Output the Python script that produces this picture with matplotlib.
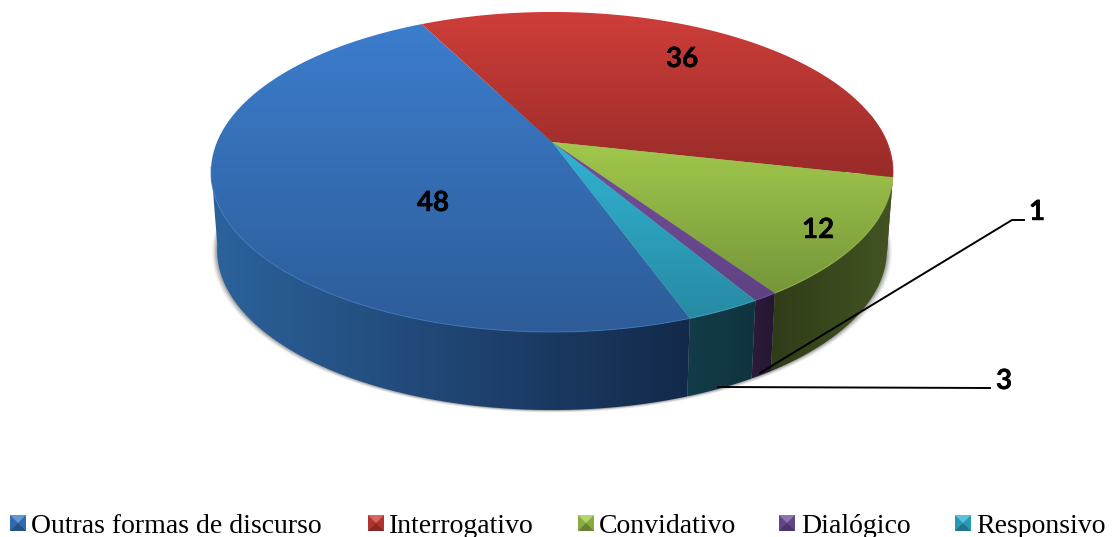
import numpy as np
import matplotlib
matplotlib.use("Agg")
import matplotlib.pyplot as plt
import matplotlib.patheffects as pe
from matplotlib.colors import LinearSegmentedColormap, to_rgb
from matplotlib.patches import Polygon

categories = ["Outras formas de discurso", "Interrogativo", "Convidativo", "Dialógico", "Responsivo"]
values = [48, 36, 12, 1, 3]

W, H = 1112, 537
START = 160.2  # degrees clockwise from the top, where the blue slice begins

# top face colours (far, near), side colours (left, right)
top_colors = [("#3c7dcd", "#2d5c98"), ("#cf3e39", "#982b29"), ("#a2c84c", "#76963a"),
              ("#74509e", "#5f4283"), ("#30b4d2", "#288aa4")]
side_colors = [("#2c629c", "#13294a"), ("#7a2220", "#5a1715"), ("#303c18", "#425423"),
               ("#2c1c3c", "#24162f"), ("#123c48", "#10343f")]
label_pos = [(433, 203), (682, 59), (818, 230), (1037, 212), (1004, 381)]
legend_x = [10, 368, 578, 779, 955]
legend_text_x = [31, 389, 599, 801, 976]


def project(theta, scale_x=1.0, dy=0.0):
    """angle on the circle (deg clockwise from top) -> pixels, with a bit of perspective"""
    t = np.radians(theta)
    u, v = np.sin(t), np.cos(t)
    w = 1 + 0.1875 * v
    return 552 + scale_x * 335 * u / w, 142 - 154.4 * v / w + dy


def arc(a0, a1, scale_x=1.0, dy=0.0):
    th = np.linspace(a0, a1, 200)
    x, y = project(th, scale_x, dy)
    return np.column_stack([x, y])


def gradient_fill(ax, verts, c0, c1, horizontal=False, zorder=2):
    cmap = LinearSegmentedColormap.from_list("g", [c0, c1])
    xmin, ymin = verts.min(axis=0)
    xmax, ymax = verts.max(axis=0)
    grad = np.linspace(0, 1, 256)
    grad = grad[np.newaxis, :] if horizontal else grad[:, np.newaxis]
    im = ax.imshow(grad, cmap=cmap, extent=(xmin, xmax, ymax, ymin), origin="upper",
                   aspect="auto", interpolation="bilinear", zorder=zorder)
    poly = Polygon(verts, closed=True, transform=ax.transData, facecolor="none", edgecolor="none")
    ax.add_patch(poly)
    im.set_clip_path(poly)


def bevel_marker(ax, x, y, color, size=16):
    base = np.array(to_rgb(color))
    light = base + (1 - base) * 0.2
    dark = base * 0.65
    c = (x + size / 2, y + size / 2)
    a, b, d, e = (x, y), (x + size, y), (x + size, y + size), (x, y + size)
    ax.add_patch(Polygon([a, b, d, e], facecolor=base * 0.85, edgecolor="none", zorder=5))
    ax.add_patch(Polygon([a, b, c], facecolor=light, edgecolor="none", zorder=6))
    ax.add_patch(Polygon([e, d, c], facecolor=dark, edgecolor="none", zorder=6))


def main():
    fig = plt.figure(figsize=(W / 100, H / 100), dpi=100)
    ax = fig.add_axes([0, 0, 1, 1])
    ax.axis("off")

    # slice limits come from the values, they run past 360 so wrap them for the rim
    edges = START + np.cumsum([0] + values) * 3.6
    bottom_sx, bottom_dy = 0.982, 78
    front_lo, front_hi = 79, 261  # rightmost and leftmost rim angles

    # soft shadow under the disc
    for grow, alpha in zip([5, 4, 3, 2, 1], [0.05, 0.07, 0.1, 0.13, 0.16]):
        th = np.linspace(0, 360, 360)
        x, y = project(th, bottom_sx + grow / 335, bottom_dy + grow * 0.5)
        ax.fill(x, y, color="#303030", alpha=alpha, lw=0, zorder=1)

    # side wall: the part of the rim that faces the viewer
    for i in range(len(values)):
        for shift in (0, -360):
            lo, hi = max(edges[i] + shift, front_lo), min(edges[i + 1] + shift, front_hi)
            if hi > lo:
                top = arc(lo, hi)
                low = arc(lo, hi, bottom_sx, bottom_dy)
                verts = np.vstack([top, low[::-1]])
                gradient_fill(ax, verts, side_colors[i][0], side_colors[i][1], horizontal=True, zorder=2)

    # top face
    apex = np.array([552.0, 142.0])
    for i in range(len(values)):
        verts = np.vstack([apex, arc(edges[i], edges[i + 1])])
        gradient_fill(ax, verts, top_colors[i][0], top_colors[i][1], zorder=3)

    # thin lighter rim on the front edge
    for i in range(len(values)):
        for shift in (0, -360):
            lo, hi = max(edges[i] + shift, 85), min(edges[i + 1] + shift, front_hi)
            if hi > lo:
                rim = arc(lo, hi)
                ax.plot(rim[:, 0], rim[:, 1], color=top_colors[i][0], lw=0.8, alpha=0.6, zorder=4)

    # data labels
    for val, (lx, ly) in zip(values, label_pos):
        ax.text(lx, ly, str(val), family="Lato", weight="bold", fontsize=20,
                ha="center", va="center", color="black", zorder=8,
                path_effects=[pe.withStroke(linewidth=0.3, foreground="black")])

    # leader lines for the two small slices
    ax.plot([760, 1012, 1024], [373, 220, 220], color="black", lw=1.4, zorder=7)
    ax.plot([718, 990], [387, 388], color="black", lw=1.4, zorder=7)

    # legend
    for i, name in enumerate(categories):
        bevel_marker(ax, legend_x[i], 515, top_colors[i][0])
        ax.text(legend_text_x[i], 533, name, family="Liberation Serif", fontsize=20,
                ha="left", va="baseline", color="black", zorder=8)

    ax.set_xlim(0, W)
    ax.set_ylim(H, 0)
    fig.savefig("out.png", dpi=100, facecolor="white")


if __name__ == "__main__":
    main()
